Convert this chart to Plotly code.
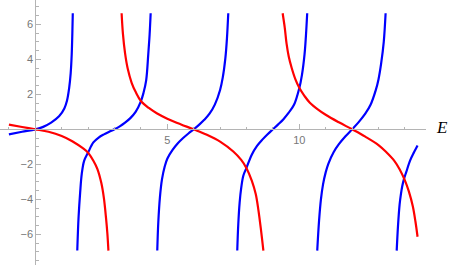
import plotly.graph_objects as go

# ---- data (E, value) ----
blue1_E = [-1.0, -0.5, 0.0, 0.3, 0.6, 0.9, 1.1, 1.2, 1.28, 1.34, 1.38, 1.42]
blue1_y = [-0.29, -0.14, 0.0, 0.14, 0.38, 0.74, 1.19, 1.63, 2.33, 3.2, 4.3, 6.63]

blue2_E = [1.59, 1.64, 1.7, 1.76, 1.85, 2.0, 2.2, 2.4, 2.6, 2.8, 3.0, 3.2, 3.4, 3.6, 3.8, 4.0, 4.1, 4.2, 4.28, 4.33, 4.37]
blue2_y = [-6.93, -5.0, -3.6, -2.55, -1.8, -1.33, -0.75, -0.47, -0.29, -0.14, 0.0, 0.17, 0.38, 0.64, 1.0, 1.6, 2.09, 2.8, 4.3, 5.4, 6.63]

blue3_E = [4.62, 4.66, 4.72, 4.8, 4.9, 5.0, 5.2, 5.4, 5.6, 5.8, 6.0, 6.2, 6.4, 6.6, 6.8, 7.0, 7.1, 7.2, 7.26, 7.31]
blue3_y = [-6.93, -5.3, -3.9, -2.85, -2.14, -1.68, -1.18, -0.80, -0.50, -0.24, 0.0, 0.25, 0.54, 0.89, 1.41, 2.25, 2.95, 4.07, 5.2, 6.63]

blue4_E = [7.65, 7.69, 7.74, 7.8, 7.88, 8.0, 8.2, 8.4, 8.6, 8.8, 9.0, 9.2, 9.4, 9.6, 9.8, 10.0, 10.1, 10.2, 10.25, 10.3]
blue4_y = [-6.93, -5.4, -4.2, -3.35, -2.65, -2.2, -1.45, -0.95, -0.59, -0.28, 0.0, 0.28, 0.58, 0.95, 1.4, 2.35, 3.1, 4.3, 5.3, 6.63]

blue5_E = [10.68, 10.75, 10.82, 10.9, 11.0, 11.1, 11.3, 11.5, 11.75, 12.0, 12.25, 12.5, 12.7, 12.9, 13.0, 13.1, 13.2, 13.27]
blue5_y = [-6.93, -5.2, -4.0, -3.15, -2.46, -1.97, -1.31, -0.85, -0.40, 0.0, 0.41, 0.89, 1.4, 2.25, 2.85, 3.75, 5.0, 6.63]

blue6_E = [13.69, 13.74, 13.8, 13.85, 13.9, 13.97, 14.05, 14.2, 14.35, 14.48]
blue6_y = [-6.93, -5.5, -4.3, -3.7, -3.25, -2.82, -2.45, -1.78, -1.3, -0.92]

red1_E = [-1.0, -0.5, 0.0, 0.5, 1.0, 1.4, 1.8, 2.0, 2.2, 2.35, 2.5, 2.6, 2.68, 2.73, 2.77]
red1_y = [0.27, 0.13, 0.0, -0.14, -0.38, -0.68, -1.08, -1.34, -1.8, -2.26, -3.06, -3.95, -5.08, -5.95, -6.93]

red2_E = [3.27, 3.32, 3.4, 3.5, 3.65, 3.8, 4.0, 4.3, 4.6, 5.0, 5.5, 6.0, 6.5, 7.0, 7.5, 7.8, 8.0, 8.2, 8.35, 8.45, 8.55, 8.64]
red2_y = [6.63, 5.45, 4.35, 3.47, 2.66, 2.14, 1.62, 1.22, 0.92, 0.61, 0.29, 0.0, -0.31, -0.70, -1.27, -1.75, -2.22, -2.93, -3.7, -4.6, -5.76, -6.93]

red3_E = [9.37, 9.45, 9.52, 9.6, 9.71, 9.85, 10.0, 10.2, 10.4, 10.7, 11.0, 11.5, 12.0, 12.5, 13.0, 13.3, 13.6, 13.8, 14.0, 14.15, 14.3, 14.4, 14.48]
red3_y = [6.63, 5.8, 4.88, 4.16, 3.52, 2.87, 2.37, 1.9, 1.52, 1.14, 0.83, 0.40, 0.0, -0.42, -0.9, -1.31, -1.8, -2.28, -2.92, -3.55, -4.4, -5.27, -6.14]

x_ticks = [5, 10]
y_ticks = [-6, -4, -2, 2, 4, 6]
x_range = [-1.337, 14.80]
y_range = [-7.754, 7.389]

blue_branches = [(blue1_E, blue1_y), (blue2_E, blue2_y), (blue3_E, blue3_y),
                 (blue4_E, blue4_y), (blue5_E, blue5_y), (blue6_E, blue6_y)]
red_branches = [(red1_E, red1_y), (red2_E, red2_y), (red3_E, red3_y)]

fig = go.Figure()
for ex, ey in blue_branches:
    fig.add_trace(go.Scatter(x=ex, y=ey, mode="lines",
                             line=dict(color="#0000ff", width=2.2, shape="spline", smoothing=1.0),
                             hoverinfo="skip", showlegend=False))
for ex, ey in red_branches:
    fig.add_trace(go.Scatter(x=ex, y=ey, mode="lines",
                             line=dict(color="#ff0000", width=2.2, shape="spline", smoothing=1.0),
                             hoverinfo="skip", showlegend=False))

axis_col = "#b4b4b4"
lab_font = dict(family="Liberation Sans, Arial, sans-serif", size=11, color="#777777")
x_pos = (0 - y_range[0]) / (y_range[1] - y_range[0])
y_pos = (0 - x_range[0]) / (x_range[1] - x_range[0])

fig.update_layout(
    width=450, height=265,
    margin=dict(l=0, r=24, t=0, b=0, autoexpand=False),
    paper_bgcolor="white", plot_bgcolor="white",
    xaxis=dict(range=x_range, anchor="free", position=x_pos, automargin=False,
               showline=True, linecolor=axis_col, linewidth=1,
               showgrid=False, zeroline=False,
               tickmode="array", tickvals=x_ticks, ticks="inside",
               ticklen=5, tickcolor=axis_col, tickwidth=1, tickfont=lab_font,
               minor=dict(dtick=1, tick0=0, ticks="inside", ticklen=2.5,
                          tickcolor=axis_col, tickwidth=1, showgrid=False)),
    yaxis=dict(range=y_range, anchor="free", position=y_pos, automargin=False,
               showline=True, linecolor=axis_col, linewidth=1,
               showgrid=False, zeroline=False,
               tickmode="array", tickvals=y_ticks, ticks="inside",
               ticklen=5, tickcolor=axis_col, tickwidth=1, tickfont=lab_font,
               minor=dict(dtick=0.5, tick0=0, ticks="inside", ticklen=2.5,
                          tickcolor=axis_col, tickwidth=1, showgrid=False)),
    annotations=[dict(text="<i>E</i>", xref="paper", yref="y", x=1, y=0,
                      xanchor="left", yanchor="middle", xshift=8, yshift=2,
                      showarrow=False,
                      font=dict(family="Liberation Serif, Times New Roman, serif", size=17, color="black"))],
)

fig.write_html("out.html",
               config={"displayModeBar": False, "staticPlot": True},
               post_script="document.body.style.margin='0';document.body.style.overflow='hidden';")
